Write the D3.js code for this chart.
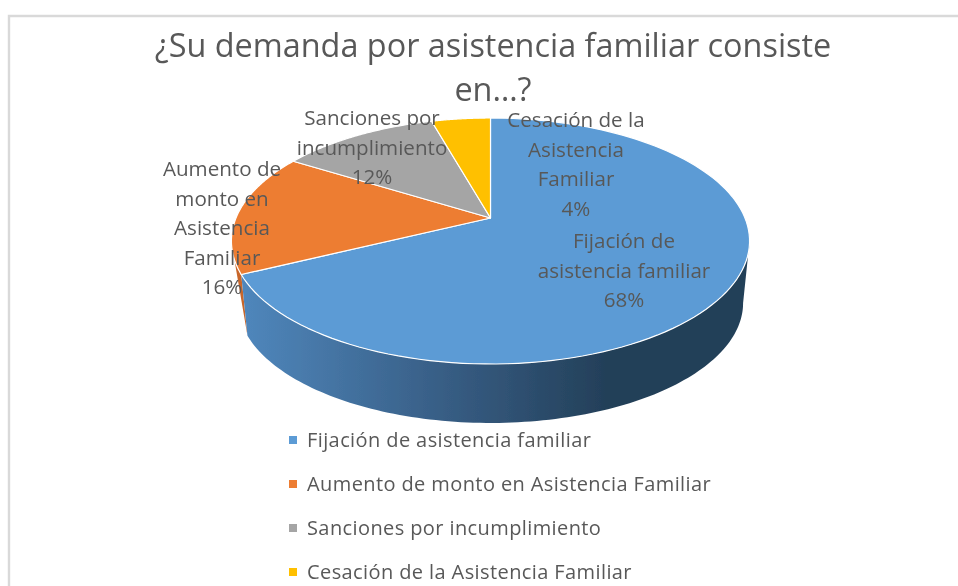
<!DOCTYPE html>
<html>
<head>
<meta charset="utf-8">
<script src="https://cdn.jsdelivr.net/npm/d3@7"></script>
<style>
  html, body { margin: 0; padding: 0; background: #fff; overflow: hidden; }
  text { font-family: "Open Sans", sans-serif; fill: #595959; }
</style>
</head>
<body>
<div id="chart"></div>
<script>
// data, the labels show them rounded
var categories = ["Fijación de asistencia familiar", "Aumento de monto en Asistencia Familiar", "Sanciones por incumplimiento", "Cesación de la Asistencia Familiar"];
var values = [67.8, 16, 11.8, 4.4];
var colors = ["#5b9bd5", "#ed7d31", "#a5a5a5", "#ffc000"];
var labelLines = [["Fijación de", "asistencia familiar"], ["Aumento de", "monto en", "Asistencia", "Familiar"], ["Sanciones por", "incumplimiento"], ["Cesación de la", "Asistencia", "Familiar"]];
var titleLines = ["¿Su demanda por asistencia familiar consiste", "en…?"];

var width = 958, height = 586;

// where the pie sits, and how the tilted disc is projected
var cx = 490.5, cy = 218, rx = 254.5, ry = 118.7, persp = 0.187;
var depth = 62.6, bottomScale = 0.975;

// centre x and first baseline of the data labels
var labelX = [624, 222, 372, 576];
var labelY = [248, 176, 125, 127];
var labelGap = 29.6;

var svg = d3.select("#chart")
  .append("svg")
  .attr("width", width)
  .attr("height", height)
  .style("display", "block");

// the picture is a slightly soft screenshot
var defs = svg.append("defs");
defs.append("filter").attr("id", "soft")
  .append("feGaussianBlur").attr("stdDeviation", 0.4);

var gradient = defs.append("linearGradient")
  .attr("id", "wallBlue")
  .attr("gradientUnits", "userSpaceOnUse")
  .attr("x1", 246).attr("x2", 610).attr("y1", 0).attr("y2", 0);
gradient.append("stop").attr("offset", "0%").attr("stop-color", "#4f86bb");
gradient.append("stop").attr("offset", "55%").attr("stop-color", "#375d84");
gradient.append("stop").attr("offset", "100%").attr("stop-color", "#233f58");

var root = svg.append("g").attr("filter", "url(#soft)");

// frame of the chart area, only top and left are in the crop
root.append("path")
  .attr("d", "M9," + height + "V16H" + width)
  .attr("fill", "none")
  .attr("stroke", "#d9d9d9")
  .attr("stroke-width", 2.4);

// angle -> point on the top face (or the bottom rim)
function project(a, bottom) {
  var u = Math.sin(a), v = -Math.cos(a);
  var s = 1 / (1 - persp * v);
  var b = bottom ? bottomScale : 1;
  return [cx + rx * u * s * b, cy + ry * v * s * b + (bottom ? depth : 0)];
}

function arcPoints(a0, a1, bottom) {
  return d3.range(0, 121).map(function(i) {
    return project(a0 + (a1 - a0) * i / 120, bottom);
  });
}

var line = d3.line();

var slices = d3.pie().sort(null)(values);

// side walls first. the orange one is just a sliver that runs out on the blue edge
var orangeTop = arcPoints(slices[1].startAngle, slices[1].startAngle + 0.12, false);
root.append("path")
  .attr("d", line(orangeTop.concat([project(slices[1].startAngle, true)])) + "Z")
  .attr("fill", "#c8662a");

// the blue wall starts where the disc is widest so its right edge is the silhouette
var wallStart = Math.acos(-persp);
var wallTop = arcPoints(wallStart, slices[0].endAngle, false);
var wallBottom = arcPoints(wallStart, slices[0].endAngle, true).reverse();
root.append("path")
  .attr("d", line(wallTop.concat(wallBottom)) + "Z")
  .attr("fill", "url(#wallBlue)");

// top faces
root.selectAll("path.slice")
  .data(slices)
  .enter().append("path")
  .attr("class", "slice")
  .attr("fill", function(d, i) { return colors[i]; })
  .attr("stroke", "#fff")
  .attr("stroke-width", 1.2)
  .attr("stroke-linejoin", "round")
  .attr("d", function(d) {
    return line([[cx, cy]].concat(arcPoints(d.startAngle, d.endAngle, false))) + "Z";
  });

// title
root.selectAll("text.title")
  .data(titleLines)
  .enter().append("text")
  .attr("class", "title")
  .attr("x", 493)
  .attr("y", function(d, i) { return 57 + i * 44; })
  .attr("text-anchor", "middle")
  .style("font-size", "32.4px")
  .text(function(d) { return d; });

// data labels
values.forEach(function(v, i) {
  var rows = labelLines[i].concat([Math.round(v) + "%"]);
  root.selectAll("text.lab" + i)
    .data(rows)
    .enter().append("text")
    .attr("class", "lab" + i)
    .attr("x", labelX[i])
    .attr("y", function(d, j) { return labelY[i] + j * labelGap; })
    .attr("text-anchor", "middle")
    .style("font-size", "20.6px")
    .text(function(d) { return d; });
});

// legend
var legendY = d3.scalePoint().domain(categories).range([440, 572]);

var legend = root.selectAll("g.legend")
  .data(categories)
  .enter().append("g")
  .attr("class", "legend")
  .attr("transform", function(d) { return "translate(289," + legendY(d) + ")"; });

legend.append("rect")
  .attr("x", 0).attr("y", -4)
  .attr("width", 8).attr("height", 8)
  .attr("fill", function(d, i) { return colors[i]; });

legend.append("text")
  .attr("x", 18)
  .attr("y", 7)
  .style("font-size", "20px")
  .style("letter-spacing", "0.4px")
  .text(function(d) { return d; });
</script>
</body>
</html>
